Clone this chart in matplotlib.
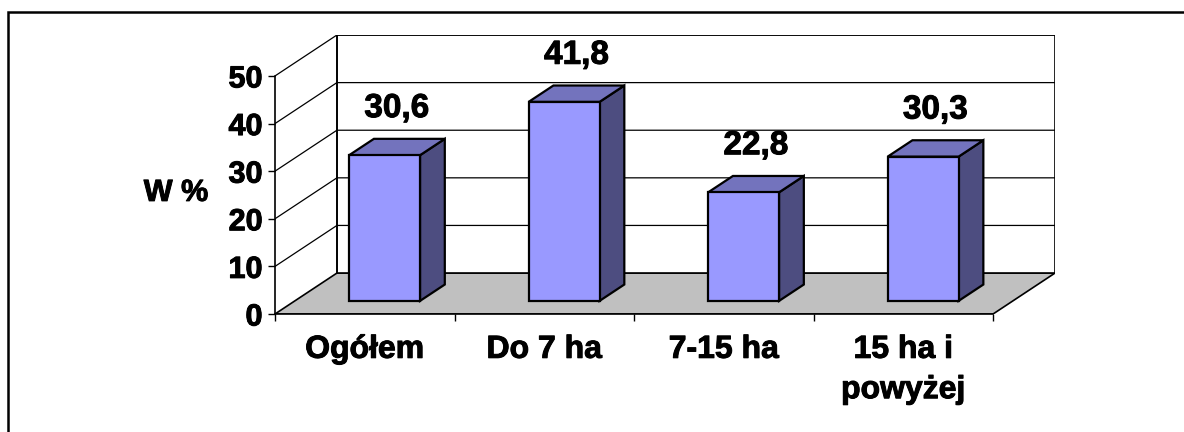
"""3D-style column chart: share (W %) by farm size group"""

import matplotlib.pyplot as plt
import matplotlib.patheffects as pe
from matplotlib.patches import Polygon, Rectangle
from matplotlib.ticker import NullFormatter

categories = ["Ogółem", "Do 7 ha", "7-15 ha", "15 ha i\npowyżej"]
values = [30.6, 41.8, 22.8, 30.3]
yticks = [0, 10, 20, 30, 40, 50]

plt.rcParams["font.family"] = ["Liberation Sans", "DejaVu Sans"]
plt.rcParams["font.weight"] = "bold"

front_col = "#9999FF"
top_col = "#7373BD"
side_col = "#4D4D80"
floor_col = "#C0C0C0"
heavy = [pe.withStroke(linewidth=0.7, foreground="black")]

fig = plt.figure(figsize=(11.84, 4.32), dpi=100)
ax = fig.add_axes([275 / 1184, 118 / 432, 780 / 1184, 279 / 432])

n = len(categories)
ymax = yticks[-1]
dx, dy = 0.345, 8.6  # depth of the box in data units
ax.set_xlim(0, n + dx)
ax.set_ylim(0, ymax + dy)

# floor and walls
ax.add_patch(Polygon([(0, 0), (n, 0), (n + dx, dy), (dx, dy)],
                     fc=floor_col, ec="black", lw=1.2, zorder=1))
ax.add_patch(Rectangle((dx, dy), n, ymax, fc="white", ec="black", lw=1.2, zorder=1))
ax.plot([dx, dx], [dy, ymax + dy], color="black", lw=1.2, zorder=2)
for t in yticks[1:]:
    ax.plot([0, dx, n + dx], [t, t + dy, t + dy], color="black", lw=0.9, zorder=2)

# bars
d0, d1 = 0.32, 0.72
bw = 0.395
base = d0 * dy
ox, oy = (d1 - d0) * dx, (d1 - d0) * dy
xs = [i + 0.5 + d0 * dx for i in range(n)]
ax.bar(xs, values, bw, bottom=base, color=front_col, edgecolor="black",
       lw=1.6, zorder=6)
for x, v in zip(xs, values):
    left, right, top = x - bw / 2, x + bw / 2, base + v
    ax.add_patch(Polygon([(right, base), (right + ox, base + oy),
                          (right + ox, top + oy), (right, top)],
                         fc=side_col, ec="black", lw=1.6, zorder=5))
    ax.add_patch(Polygon([(left, top), (right, top),
                          (right + ox, top + oy), (left + ox, top + oy)],
                         fc=top_col, ec="black", lw=1.6, zorder=5))
    ax.text(x + ox / 2, top + 8, f"{v:.1f}".replace(".", ","),
            ha="center", va="baseline", fontsize=24, fontweight="bold",
            path_effects=heavy)

# axes
for s in ["top", "right"]:
    ax.spines[s].set_visible(False)
ax.spines["left"].set_bounds(0, ymax)
ax.spines["bottom"].set_bounds(0, n)
ax.spines["left"].set_linewidth(1.2)
ax.spines["bottom"].set_linewidth(1.2)
ax.set_yticks(yticks)
ax.tick_params(axis="y", length=5, width=1, pad=4, labelsize=22)
ax.set_xticks(range(n + 1))
ax.xaxis.set_major_formatter(NullFormatter())
ax.set_xticks([i + 0.5 for i in range(n)], minor=True)
ax.set_xticklabels(categories, minor=True)
ax.tick_params(axis="x", which="major", length=5, width=1)
ax.tick_params(axis="x", which="minor", length=0, pad=15, labelsize=23)
for lbl in ax.get_xticklabels(minor=True) + ax.get_yticklabels():
    lbl.set_linespacing(1.45)
    lbl.set_path_effects(heavy)

ax.set_ylabel("W %", rotation=0, ha="center", va="center", fontsize=22,
              fontweight="bold", path_effects=heavy)
ax.yaxis.set_label_coords(-0.127, 0.434)

# outer frame (only left and top edges are visible)
fig.add_artist(Rectangle((8 / 1184, -0.5), 2, (432 - 12) / 432 + 0.5,
                         transform=fig.transFigure, fill=False,
                         ec="black", lw=1.8))

fig.savefig("out.png", dpi=100)
